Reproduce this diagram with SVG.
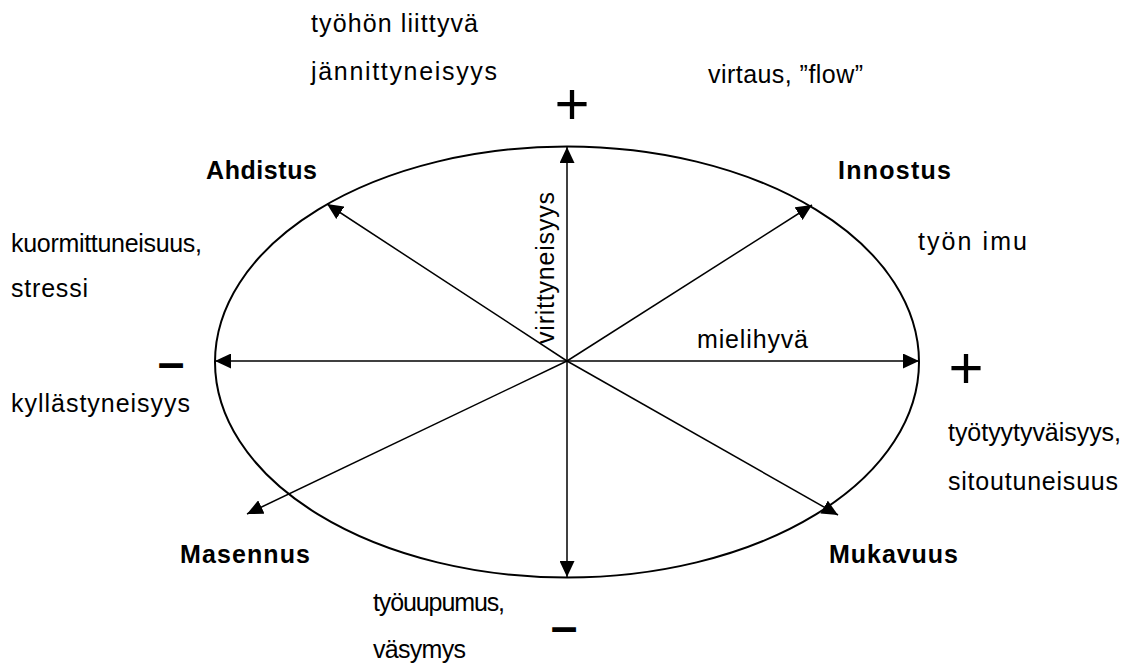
<svg xmlns="http://www.w3.org/2000/svg" width="1137" height="664" viewBox="0 0 1137 664">
<style>
text{font-family:"Liberation Sans",Arial,sans-serif;fill:#000}
.t{font-size:25px}
.b{font-size:25px;font-weight:bold}
.sign{font-size:60px}
.dash{font-size:48px;font-weight:bold}
.ax{stroke:#000;stroke-width:1.5;fill:none}
</style>
<defs>
<marker id="ah" viewBox="0 0 16 15" refX="16" refY="7.5" markerWidth="16" markerHeight="15" markerUnits="userSpaceOnUse" orient="auto">
<path d="M0,0 L16,7.5 L0,15 Z" fill="#000"/>
</marker>
</defs>
<rect width="1137" height="664" fill="#fff"/>
<g id="ellipse"><ellipse cx="567" cy="362" rx="352" ry="215.5" fill="none" stroke="#000" stroke-width="2"/></g>
<g id="connectors">
<line class="ax" x1="567" y1="361" x2="567" y2="147" marker-end="url(#ah)"/>
<line class="ax" x1="567" y1="361" x2="567" y2="577" marker-end="url(#ah)"/>
<line class="ax" x1="567" y1="361" x2="215" y2="361" marker-end="url(#ah)"/>
<line class="ax" x1="567" y1="361" x2="919" y2="361" marker-end="url(#ah)"/>
<line class="ax" x1="567" y1="361" x2="327" y2="204" marker-end="url(#ah)"/>
<line class="ax" x1="567" y1="361" x2="812" y2="205" marker-end="url(#ah)"/>
<line class="ax" x1="567" y1="361" x2="247" y2="514" marker-end="url(#ah)"/>
<line class="ax" x1="567" y1="361" x2="838" y2="515" marker-end="url(#ah)"/>
</g>
<g id="signs">
<text class="sign" x="572" y="124" text-anchor="middle">+</text>
<text class="sign" x="966" y="388" text-anchor="middle">+</text>
<text class="dash" x="171" y="379" text-anchor="middle">–</text>
<text class="dash" x="564" y="643" text-anchor="middle">–</text>
</g>
<g id="n-ahdistus"><text class="b" x="206" y="179" textLength="111" lengthAdjust="spacing">Ahdistus</text></g>
<g id="n-innostus"><text class="b" x="838" y="179" textLength="113" lengthAdjust="spacing">Innostus</text></g>
<g id="n-masennus"><text class="b" x="180" y="563" textLength="130" lengthAdjust="spacing">Masennus</text></g>
<g id="n-mukavuus"><text class="b" x="829" y="563" textLength="129" lengthAdjust="spacing">Mukavuus</text></g>
<g id="l-top"><text class="t" x="311" y="32" textLength="167" lengthAdjust="spacing">työhön liittyvä</text><text class="t" x="311" y="80" textLength="186" lengthAdjust="spacing">jännittyneisyys</text></g>
<g id="l-flow"><text class="t" x="708" y="83" textLength="155" lengthAdjust="spacing">virtaus, ”flow”</text></g>
<g id="l-stress"><text class="t" x="11" y="252" textLength="191" lengthAdjust="spacing">kuormittuneisuus,</text><text class="t" x="11" y="297" textLength="77" lengthAdjust="spacing">stressi</text></g>
<g id="l-imu"><text class="t" x="918" y="250" textLength="109" lengthAdjust="spacing">työn imu</text></g>
<g id="l-viritt"><text class="t" transform="translate(554,344) rotate(-90)" textLength="152" lengthAdjust="spacing">virittyneisyys</text></g>
<g id="l-mieli"><text class="t" x="697" y="348" textLength="111" lengthAdjust="spacing">mielihyvä</text></g>
<g id="l-kyll"><text class="t" x="11" y="412" textLength="179" lengthAdjust="spacing">kyllästyneisyys</text></g>
<g id="l-tyyt"><text class="t" x="948" y="441" textLength="173" lengthAdjust="spacing">työtyytyväisyys,</text><text class="t" x="948" y="490" textLength="170" lengthAdjust="spacing">sitoutuneisuus</text></g>
<g id="l-uup"><text class="t" x="373" y="611" textLength="132" lengthAdjust="spacing">työuupumus,</text><text class="t" x="373" y="658" textLength="93" lengthAdjust="spacing">väsymys</text></g>
</svg>
